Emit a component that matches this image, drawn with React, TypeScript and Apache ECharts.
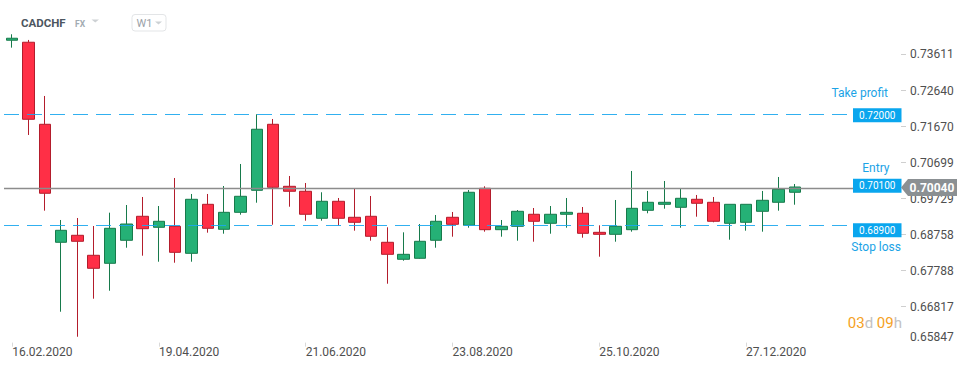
import React, { useEffect, useRef } from 'react';
import * as echarts from 'echarts';

// ---- data ----
const symbolName = 'CADCHF';
const marketName = 'FX';
const timeframe = 'W1';
const countdownDays = '03';
const countdownHours = '09';

const dates = [
  '16.02.2020', '23.02.2020', '01.03.2020', '08.03.2020', '15.03.2020', '22.03.2020', '29.03.2020',
  '05.04.2020', '12.04.2020', '19.04.2020', '26.04.2020', '03.05.2020', '10.05.2020', '17.05.2020',
  '24.05.2020', '31.05.2020', '07.06.2020', '14.06.2020', '21.06.2020', '28.06.2020', '05.07.2020',
  '12.07.2020', '19.07.2020', '26.07.2020', '02.08.2020', '09.08.2020', '16.08.2020', '23.08.2020',
  '30.08.2020', '06.09.2020', '13.09.2020', '20.09.2020', '27.09.2020', '04.10.2020', '11.10.2020',
  '18.10.2020', '25.10.2020', '01.11.2020', '08.11.2020', '15.11.2020', '22.11.2020', '29.11.2020',
  '06.12.2020', '13.12.2020', '20.12.2020', '27.12.2020', '03.01.2021', '10.01.2021', '17.01.2021',
];

const openValues = [
  0.73995, 0.73941, 0.7173, 0.6855, 0.68739, 0.682, 0.67984, 0.68604, 0.69251, 0.68954,
  0.68981, 0.68253, 0.69574, 0.689, 0.69358, 0.69951, 0.7173, 0.70059, 0.69925, 0.69197,
  0.69655, 0.69224, 0.69251, 0.6855, 0.68092, 0.68119, 0.68604, 0.69224, 0.69008, 0.70005,
  0.6889, 0.68981, 0.69305, 0.69062, 0.69305, 0.69332, 0.68819, 0.68765, 0.6889, 0.69412,
  0.69574, 0.69493, 0.69709, 0.69628, 0.69062, 0.69089, 0.69385, 0.69628, 0.69898,
];
const closeValues = [
  0.74049, 0.71865, 0.69871, 0.68873, 0.68577, 0.67849, 0.68927, 0.69043, 0.68916, 0.69116,
  0.6828, 0.69709, 0.68927, 0.69358, 0.6979, 0.71596, 0.70032, 0.69925, 0.69305, 0.69655,
  0.69197, 0.69089, 0.68712, 0.68226, 0.68226, 0.68577, 0.69116, 0.69035, 0.69898, 0.6889,
  0.68981, 0.69385, 0.69116, 0.69305, 0.69358, 0.68792, 0.68765, 0.68981, 0.69466, 0.69628,
  0.69628, 0.69736, 0.69601, 0.69116, 0.69574, 0.69574, 0.69682, 0.69978, 0.7004,
];
const lowValues = [
  0.73795, 0.71442, 0.69402, 0.66679, 0.66005, 0.6703, 0.67245, 0.68404, 0.68189, 0.68027,
  0.68, 0.68027, 0.68809, 0.68782, 0.69294, 0.69617, 0.69024, 0.69509, 0.69132, 0.69132,
  0.68997, 0.68863, 0.68593, 0.67434, 0.68054, 0.68109, 0.68404, 0.68701, 0.68943, 0.68836,
  0.68701, 0.68593, 0.68566, 0.68782, 0.68943, 0.68674, 0.68162, 0.68566, 0.68836, 0.69332,
  0.69456, 0.68943, 0.6924, 0.69089, 0.6862, 0.68863, 0.68836, 0.69402, 0.69563,
];
const highValues = [
  0.74156, 0.74003, 0.72493, 0.69151, 0.69205, 0.68989, 0.69348, 0.69555, 0.69771, 0.69528,
  0.70283, 0.69852, 0.69852, 0.70067, 0.7066, 0.72, 0.71873, 0.70337, 0.70148, 0.69898,
  0.69744, 0.70013, 0.69798, 0.68954, 0.68819, 0.69043, 0.69286, 0.69367, 0.6996, 0.70059,
  0.69151, 0.6942, 0.69474, 0.69528, 0.69744, 0.69501, 0.69008, 0.6969, 0.70472, 0.69933,
  0.70202, 0.69987, 0.69825, 0.69771, 0.69574, 0.69574, 0.69933, 0.7031, 0.70121,
];

const levelNames = ['Take profit', 'Entry', 'Stop loss'];
const levelValues = [0.72, 0.701, 0.689];
const lastPrice = 0.7004;

const yTickValues = [0.73611, 0.7264, 0.7167, 0.70699, 0.69729, 0.68758, 0.67788, 0.66817, 0.65847];

// ---- layout / style ----
const EMPTY_SLOTS = 6;
const Y_MIN = 0.65847;
const Y_MAX = 0.7481;
const GRID = { left: 4, right: 69, top: 10, bottom: 25.4 };
const FONT = 'Roboto, "Noto Sans", sans-serif';
const BLUE = '#0aa6ee';
const BLUE_TEXT = '#1ba3e6';
const AXIS_TEXT = '#4f4f4f';
// label offsets relative to level line: [dy of name text, right edge x of name text]
const levelLabelLayout = [
  { dy: -21, right: 888 },
  { dy: -16.5, right: 889.5 },
  { dy: 18, right: 901 },
];

export default function App() {
  const ref = useRef<HTMLDivElement>(null);

  useEffect(() => {
    if (!ref.current) return;
    const chart = echarts.init(ref.current, undefined, { renderer: 'svg' });

    const categories = [...dates, ...Array(EMPTY_SLOTS).fill('')];
    const candleData = dates.map((_, i) => [openValues[i], closeValues[i], lowValues[i], highValues[i]]);
    const showLabel = (i: number, v: string) => i % 9 === 0 && v !== '';

    chart.setOption({
      animation: false,
      backgroundColor: '#ffffff',
      textStyle: { fontFamily: FONT },
      grid: GRID,
      xAxis: {
        type: 'category',
        data: categories,
        boundaryGap: true,
        axisLine: { show: false },
        axisTick: {
          show: true,
          length: 4,
          alignWithLabel: true,
          interval: showLabel,
          lineStyle: { color: '#d9d9d9' },
        },
        axisLabel: {
          interval: showLabel,
          align: 'left',
          color: AXIS_TEXT,
          fontSize: 12,
          fontFamily: FONT,
          margin: 3,
        },
        splitLine: { show: false },
      },
      yAxis: {
        type: 'value',
        position: 'right',
        min: Y_MIN,
        max: Y_MAX,
        scale: true,
        axisLine: { show: false },
        axisTick: {
          show: true,
          length: 5,
          lineStyle: { color: '#cfcfcf' },
          customValues: yTickValues.slice(0, -1),
        },
        axisLabel: {
          customValues: yTickValues,
          margin: 9,
          color: AXIS_TEXT,
          fontSize: 12,
          fontFamily: FONT,
          formatter: (v: number) => {
            const s = v.toFixed(5);
            return s === Y_MIN.toFixed(5) ? `{low|${s}}` : s;
          },
          rich: {
            low: { padding: [0, 0, 12, 0], color: AXIS_TEXT, fontSize: 12, fontFamily: FONT },
          },
        },
        splitLine: { show: false },
      },
      series: [
        {
          type: 'candlestick',
          data: candleData,
          barWidth: 12,
          itemStyle: {
            color: '#25b176',
            color0: '#ff2f46',
            borderColor: '#177a4b',
            borderColor0: '#b31d2c',
            borderWidth: 1,
          },
          markLine: {
            symbol: 'none',
            silent: true,
            animation: false,
            label: { show: false },
            data: [
              ...levelValues.map((v) => ({
                yAxis: v,
                lineStyle: { color: '#1ba7ee', type: [15, 8], width: 1.2, opacity: 0.9 },
              })),
              { yAxis: lastPrice, lineStyle: { color: '#8c8c8c', type: 'solid', width: 1.3 } },
            ],
          },
        },
      ],
    });

    const py = (v: number) => chart.convertToPixel({ yAxisIndex: 0 }, v) as number;
    const graphics: any[] = [];

    // level boxes and names
    levelValues.forEach((v, i) => {
      const yy = py(v) + 1;
      graphics.push({
        type: 'rect',
        z: 100,
        shape: { x: 853, y: yy - 7, width: 48.5, height: 14 },
        style: { fill: BLUE },
      });
      graphics.push({
        type: 'text',
        z: 101,
        style: {
          text: v.toFixed(5),
          x: 877.3,
          y: yy,
          fill: '#ffffff',
          font: `10px ${FONT}`,
          align: 'center',
          verticalAlign: 'middle',
        },
      });
      graphics.push({
        type: 'text',
        z: 101,
        style: {
          text: levelNames[i],
          x: levelLabelLayout[i].right,
          y: py(v) + levelLabelLayout[i].dy,
          fill: BLUE_TEXT,
          font: `12px ${FONT}`,
          align: 'right',
          verticalAlign: 'middle',
        },
      });
    });

    // current price label
    const lp = py(lastPrice) + 0.5;
    graphics.push({
      type: 'polygon',
      z: 100,
      shape: {
        points: [
          [901, lp],
          [908, lp - 8.4],
          [957, lp - 8.4],
          [957, lp + 8.4],
          [908, lp + 8.4],
        ],
      },
      style: { fill: '#8b9093' },
    });
    graphics.push({
      type: 'text',
      z: 101,
      style: {
        text: lastPrice.toFixed(5),
        x: 932,
        y: lp,
        fill: '#ffffff',
        font: `bold 12px ${FONT}`,
        align: 'center',
        verticalAlign: 'middle',
      },
    });

    // header
    graphics.push({
      type: 'text',
      z: 101,
      style: {
        text: symbolName,
        x: 21,
        y: 23,
        fill: '#4c5660',
        font: `bold 11.5px ${FONT}`,
        align: 'left',
        verticalAlign: 'middle',
      },
    });
    graphics.push({
      type: 'text',
      z: 101,
      style: {
        text: marketName,
        x: 75,
        y: 24,
        fill: '#a3abb2',
        font: `bold 8.5px ${FONT}`,
        align: 'left',
        verticalAlign: 'middle',
      },
    });
    graphics.push({
      type: 'polygon',
      z: 101,
      shape: { points: [[91.5, 19.5], [99, 19.5], [95.25, 22.5]] },
      style: { fill: '#cdd1d4' },
    });
    graphics.push({
      type: 'rect',
      z: 100,
      shape: { x: 132, y: 14.5, width: 34, height: 16.5, r: 3 },
      style: { fill: '#ffffff', stroke: '#e3e5e7', lineWidth: 1 },
    });
    graphics.push({
      type: 'text',
      z: 101,
      style: {
        text: timeframe,
        x: 136.5,
        y: 23,
        fill: '#9aa1a7',
        font: `11px ${FONT}`,
        align: 'left',
        verticalAlign: 'middle',
      },
    });
    graphics.push({
      type: 'polygon',
      z: 101,
      shape: { points: [[155, 21.5], [162, 21.5], [158.5, 24.5]] },
      style: { fill: '#cdd1d4' },
    });

    // countdown
    graphics.push({
      type: 'text',
      z: 101,
      style: {
        text: `{o|${countdownDays}}{g|d} {o|${countdownHours}}{g|h}`,
        x: 902,
        y: 323,
        align: 'right',
        verticalAlign: 'middle',
        font: `15px ${FONT}`,
        rich: {
          o: { fill: '#f5a123', font: `15px ${FONT}` },
          g: { fill: '#c2c2c2', font: `15px ${FONT}` },
        },
      },
    });

    chart.setOption({ graphic: graphics });

    return () => chart.dispose();
  }, []);

  return (
    <div
      ref={ref}
      style={{ position: 'fixed', left: 0, top: 0, width: 970, height: 368, background: '#fff' }}
    />
  );
}
